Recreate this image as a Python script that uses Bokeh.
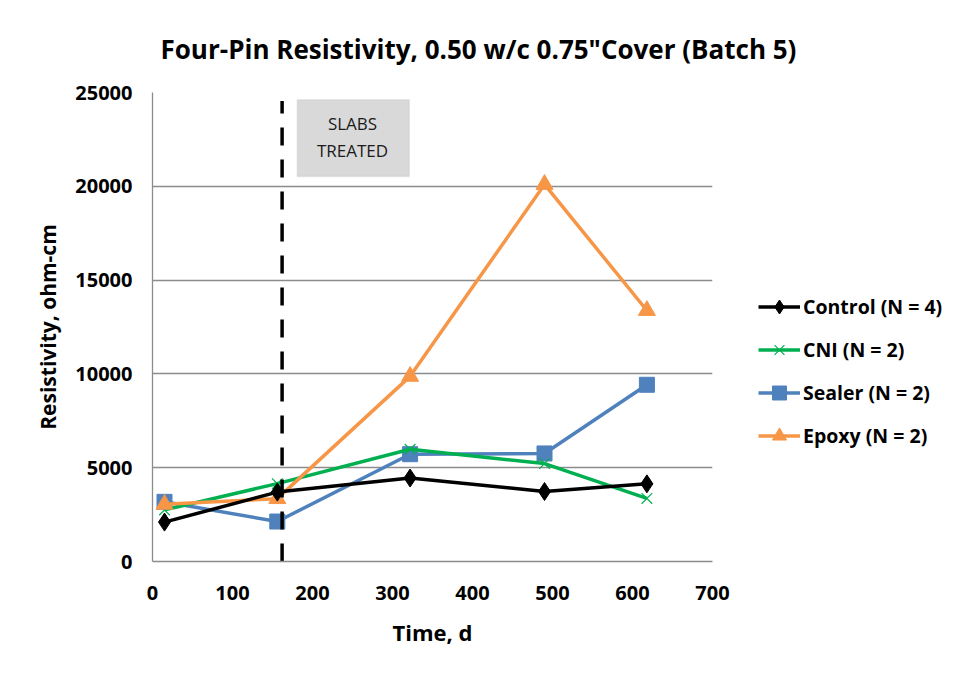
from bokeh.plotting import figure
from bokeh.models import Range1d, Legend, LegendItem, BoxAnnotation, Label, FixedTicker
from bokeh.embed import file_html
from bokeh.resources import INLINE

# ---- data ----
days = [15, 156, 322, 490, 618]
control = [2100, 3700, 4450, 3730, 4140]
cni = [2750, 4150, 5980, 5220, 3360]
sealer = [3180, 2130, 5720, 5760, 9420]
epoxy = [3050, 3350, 9870, 20100, 13380]
treat_day = 162
treat_span = [0, 24550]
x_ticks = [0, 100, 200, 300, 400, 500, 600, 700]
y_ticks = [0, 5000, 10000, 15000, 20000, 25000]

FONT = "Open Sans"
GRID = "#8c8c8c"

p = figure(frame_width=560, frame_height=469, output_backend="svg", toolbar_location=None,
           x_range=Range1d(0, 700), y_range=Range1d(0, 25000),
           min_border_left=152, min_border_top=92, min_border_bottom=104, min_border_right=234,
           title="Four-Pin Resistivity, 0.50 w/c 0.75\"Cover (Batch 5)")
p.title.align = "left"
p.title.offset = 8
p.title.standoff = 52
p.title.text_font = FONT
p.title.text_font_style = "bold"
p.title.text_font_size = "26px"
p.title.text_color = "black"

p.outline_line_color = None
p.xgrid.grid_line_color = None
p.ygrid.grid_line_color = GRID
p.ygrid.grid_line_width = 1.3
p.xaxis.ticker = FixedTicker(ticks=x_ticks)
p.yaxis.ticker = FixedTicker(ticks=y_ticks)
for ax in (p.xaxis[0], p.yaxis[0]):
    ax.major_tick_out = 0
    ax.major_tick_in = 0
    ax.minor_tick_out = 0
    ax.minor_tick_in = 0
    ax.axis_line_color = GRID
    ax.axis_line_width = 1.3
    ax.major_label_text_font = FONT
    ax.major_label_text_font_style = "bold"
    ax.major_label_text_font_size = "20px"
    ax.major_label_text_color = "black"
    ax.axis_label_text_font = FONT
    ax.axis_label_text_font_style = "bold"
    ax.axis_label_text_font_size = "21px"
    ax.axis_label_text_color = "black"
p.xaxis.axis_label = "Time, d"
p.xaxis.axis_label_text_font_size = "22px"
p.yaxis.axis_label = "Resistivity, ohm-cm"
p.xaxis.major_label_standoff = 24
p.xaxis.axis_label_standoff = 14
p.yaxis.major_label_standoff = 20
p.yaxis.axis_label_standoff = 10

# annotation box
box = BoxAnnotation(left=181, right=321, top=24620, bottom=20520,
                    fill_color="#d9d9d9", fill_alpha=1, line_color="#bfbfbf", line_width=1.5)
p.add_layout(box)
for txt, yy in (("SLABS", 23360), ("TREATED", 21900)):
    p.add_layout(Label(x=250, y=yy, text=txt, text_align="center", text_baseline="middle",
                       text_font=FONT, text_font_size="17px", text_color="#1a1a1a"))

lw = 3.5
sl = p.line(days, sealer, line_color="#4f81bd", line_width=lw)
ss = p.scatter(days, sealer, marker="square", size=15, fill_color="#4f81bd", line_color="#4f81bd")
cl = p.line(days, cni, line_color="#00b050", line_width=lw)
cs = p.scatter(days, cni, marker="x", size=15, line_color="#00b050", line_width=1.2)
el = p.line(days, epoxy, line_color="#f79646", line_width=lw)
es = p.scatter(days, epoxy, marker="triangle", size=17, fill_color="#f79646", line_color="#f79646")
kl = p.line(days, control, line_color="black", line_width=lw)
ks = p.scatter(days, control, marker="diamond", size=18, fill_color="black", line_color="black")

p.line([treat_day, treat_day], treat_span, line_color="black", line_width=3.5, line_dash="18 14")

legend = Legend(items=[
    LegendItem(label="Control (N = 4)", renderers=[kl, ks]),
    LegendItem(label="CNI (N = 2)", renderers=[cl, cs]),
    LegendItem(label="Sealer (N = 2)", renderers=[sl, ss]),
    LegendItem(label="Epoxy (N = 2)", renderers=[el, es]),
], location=(46, 108), glyph_width=42, glyph_height=35, label_height=35, spacing=8,
   label_standoff=3, padding=0, margin=0, border_line_color=None, background_fill_alpha=0,
   label_text_font=FONT, label_text_font_style="bold", label_text_font_size="19.5px",
   label_text_color="black")
p.add_layout(legend, "right")

open("out.html", "w").write(file_html(p, INLINE))
